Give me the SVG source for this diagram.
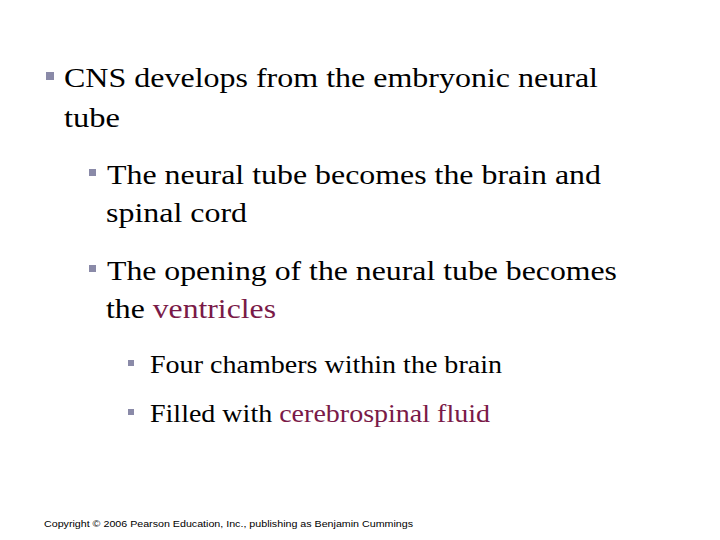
<svg xmlns="http://www.w3.org/2000/svg" width="720" height="540" viewBox="0 0 720 540">
<style>
.r{fill:#7a1a48}
.b{fill:#8a8aa8}
</style>
<rect width="720" height="540" fill="#fff"/>
<g id="bullets">
<rect class="b" x="46" y="72" width="8" height="8"/>
<rect class="b" x="89" y="169" width="7" height="7"/>
<rect class="b" x="89" y="265" width="7" height="7"/>
<rect class="b" x="128" y="360" width="6" height="6"/>
<rect class="b" x="128" y="409" width="6" height="6"/>
</g>
<g id="text" font-family="Liberation Serif, Times New Roman, serif" fill="#000">
<text x="64" y="87" font-size="28" textLength="534" lengthAdjust="spacingAndGlyphs">CNS develops from the embryonic neural</text>
<text x="64" y="127" font-size="28" textLength="56" lengthAdjust="spacingAndGlyphs">tube</text>
<text x="107" y="184" font-size="28" textLength="494" lengthAdjust="spacingAndGlyphs">The neural tube becomes the brain and</text>
<text x="106" y="222" font-size="28" textLength="141" lengthAdjust="spacingAndGlyphs">spinal cord</text>
<text x="107" y="280" font-size="28" textLength="510" lengthAdjust="spacingAndGlyphs">The opening of the neural tube becomes</text>
<text x="106" y="318" font-size="28" textLength="170" lengthAdjust="spacingAndGlyphs">the <tspan class="r">ventricles</tspan></text>
<text x="150" y="373" font-size="25" textLength="352" lengthAdjust="spacingAndGlyphs">Four chambers within the brain</text>
<text x="150" y="422" font-size="25" textLength="340" lengthAdjust="spacingAndGlyphs">Filled with <tspan class="r">cerebrospinal fluid</tspan></text>
</g>
<text x="44" y="527" font-family="Liberation Sans, Arial, sans-serif" font-size="9.5" textLength="369" lengthAdjust="spacingAndGlyphs">Copyright © 2006 Pearson Education, Inc., publishing as Benjamin Cummings</text>
</svg>
